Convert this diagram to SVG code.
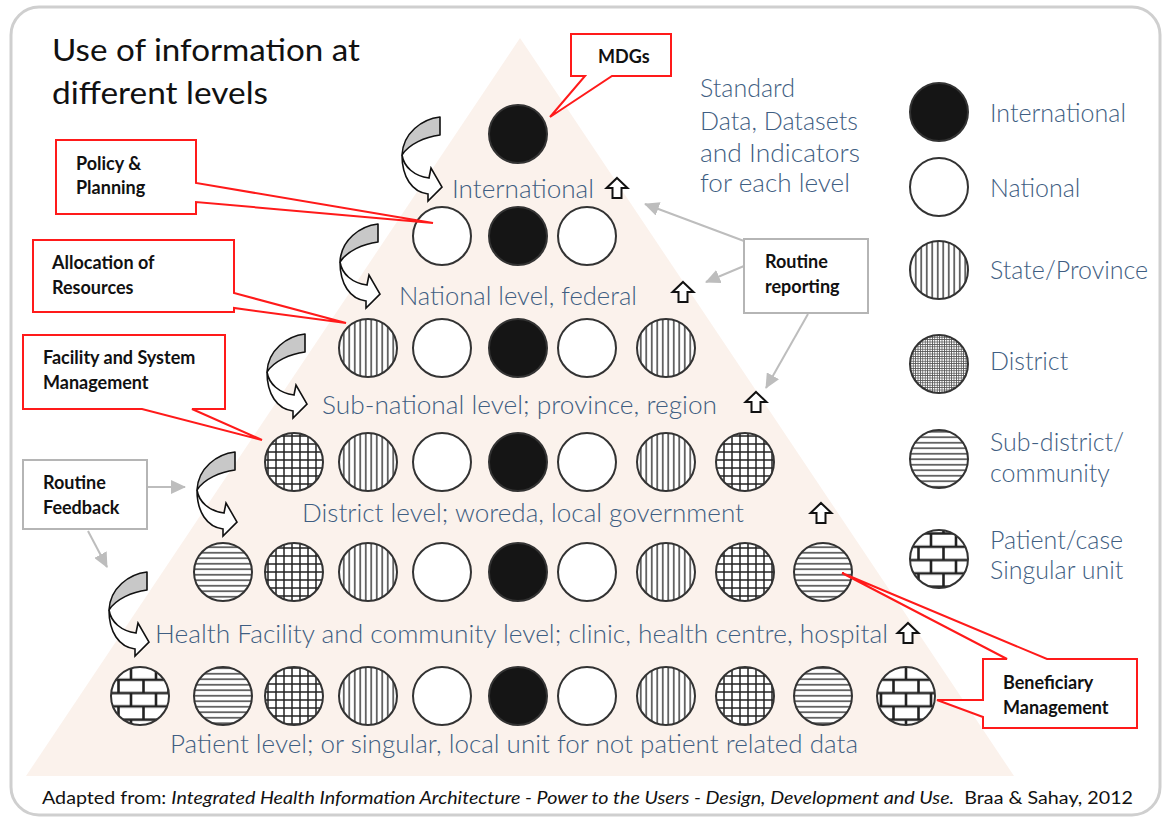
<svg xmlns="http://www.w3.org/2000/svg" xmlns:xlink="http://www.w3.org/1999/xlink" width="1162" height="821" viewBox="0 0 1162 821">
<style>
.c{stroke:#333;stroke-width:2}
.I{fill:#151515}
.N{fill:#fff}
.V{fill:url(#vert)}
.H{fill:url(#horiz)}
.G{fill:url(#grid)}
.B{fill:url(#brick)}
.F{fill:url(#fine)}
.lvl{font-family:Lato,"Open Sans","Liberation Sans",sans-serif;font-size:25px;font-weight:300;fill:#3f5e82}
.box{font-family:Lato,"Liberation Sans",sans-serif;font-size:18px;font-weight:bold;fill:#111}
.red{fill:#fff;stroke:#ff1a1a;stroke-width:2}
.gray{fill:#fff;stroke:#b5b5b5;stroke-width:2}
.conn{stroke:#bdbdbd;stroke-width:2;fill:none}
.up{fill:#fff;stroke:#111;stroke-width:2;stroke-linejoin:miter}
</style>
<defs>
<pattern id="vert" patternUnits="userSpaceOnUse" width="5.5" height="10"><rect width="5.5" height="10" fill="#fff"/><line x1="2.75" y1="0" x2="2.75" y2="10" stroke="#222" stroke-width="1.3"/></pattern>
<pattern id="horiz" patternUnits="userSpaceOnUse" width="10" height="5.5"><rect width="10" height="5.5" fill="#fff"/><line x1="0" y1="2.75" x2="10" y2="2.75" stroke="#222" stroke-width="1.3"/></pattern>
<pattern id="grid" patternUnits="userSpaceOnUse" width="8" height="8"><rect width="8" height="8" fill="#fff"/><path d="M4,0V8M0,4H8" stroke="#222" stroke-width="1.5"/></pattern>
<pattern id="fine" patternUnits="userSpaceOnUse" width="2.4" height="2.4"><rect width="2.4" height="2.4" fill="#fff"/><path d="M1.2,0V2.4M0,1.2H2.4" stroke="#555" stroke-width="0.8"/></pattern>
<pattern id="brick" patternUnits="userSpaceOnUse" width="25" height="26.6"><rect width="25" height="26.6" fill="#fff"/><path d="M0,1.5H25M0,14.8H25M6,1.5V14.8M18.5,14.8V26.6M18.5,0V1.5" stroke="#222" stroke-width="2.6"/></pattern>
<g id="curl">
<path d="M0,0 C-18,2 -37,16 -38,38 C-31,27 -15,20 0,18 Z" fill="#c8c8c8" stroke="#111" stroke-width="1.6" stroke-linejoin="round"/>
<path d="M-38,38 C-36,50 -26,59 -11,61 L-9,51 L2,70 L-12,84 L-12,77 C-28,75 -38,60 -38,38 Z" fill="#fff" stroke="#111" stroke-width="1.6" stroke-linejoin="miter"/>
</g>
<path id="up" d="M0,0 L10.5,10 L4.5,10 L4.5,20 L-4.5,20 L-4.5,10 L-10.5,10 Z" class="up"/>
<marker id="ah" markerUnits="userSpaceOnUse" markerWidth="16" markerHeight="14" refX="14" refY="7" orient="auto"><path d="M0,0 L15,7 L0,14 Z" fill="#bdbdbd"/></marker>
</defs>

<rect x="0" y="0" width="1162" height="821" fill="#fff"/>
<rect x="11" y="7" width="1149" height="808" rx="28" fill="#fff" stroke="#cfcfcf" stroke-width="3"/>

<path id="pyramid" d="M520,38 L1014,776 L26,776 Z" fill="#fbf2ec"/>

<g id="title" font-family="Lato,'Liberation Sans',sans-serif" font-size="30" fill="#111">
<text x="52" y="61" textLength="308" lengthAdjust="spacingAndGlyphs">Use of information at</text>
<text x="52" y="104" textLength="216" lengthAdjust="spacingAndGlyphs">different levels</text>
</g>

<g id="standard-text">
<text x="700" y="97" class="lvl">Standard</text>
<text x="700" y="130" class="lvl" textLength="158" lengthAdjust="spacingAndGlyphs">Data, Datasets</text>
<text x="700" y="162" class="lvl" textLength="160" lengthAdjust="spacingAndGlyphs">and Indicators</text>
<text x="700" y="192" class="lvl" textLength="150" lengthAdjust="spacingAndGlyphs">for each level</text>
</g>

<g id="level-international">
<circle class="c I" cx="518" cy="134" r="29"/>
<text class="lvl" x="452" y="198" textLength="142" lengthAdjust="spacingAndGlyphs">International</text>
<use xlink:href="#up" href="#up" x="617" y="178"/>
<use xlink:href="#curl" href="#curl" x="440" y="117"/>
</g>

<g id="level-national">
<circle class="c N" cx="442" cy="236" r="29"/>
<circle class="c I" cx="518" cy="236" r="29"/>
<circle class="c N" cx="587" cy="236" r="29"/>
<text class="lvl" x="399" y="305" textLength="238" lengthAdjust="spacingAndGlyphs">National level, federal</text>
<use xlink:href="#up" href="#up" x="683" y="282"/>
<use xlink:href="#curl" href="#curl" x="378" y="224"/>
</g>

<g id="level-subnational">
<circle class="c V" cx="368" cy="348" r="29"/>
<circle class="c N" cx="442" cy="348" r="29"/>
<circle class="c I" cx="518" cy="348" r="29"/>
<circle class="c N" cx="587" cy="348" r="29"/>
<circle class="c V" cx="666" cy="348" r="29"/>
<text class="lvl" x="322" y="414" textLength="395" lengthAdjust="spacingAndGlyphs">Sub-national level; province, region</text>
<use xlink:href="#up" href="#up" x="756" y="392"/>
<use xlink:href="#curl" href="#curl" x="305" y="334"/>
</g>

<g id="level-district">
<circle class="c G" cx="294" cy="462" r="29"/>
<circle class="c V" cx="368" cy="462" r="29"/>
<circle class="c N" cx="442" cy="462" r="29"/>
<circle class="c I" cx="518" cy="462" r="29"/>
<circle class="c N" cx="587" cy="462" r="29"/>
<circle class="c V" cx="666" cy="462" r="29"/>
<circle class="c G" cx="745" cy="462" r="29"/>
<text class="lvl" x="302" y="522" textLength="442" lengthAdjust="spacingAndGlyphs">District level; woreda, local government</text>
<use xlink:href="#up" href="#up" x="821" y="503"/>
<use xlink:href="#curl" href="#curl" x="235" y="452"/>
</g>

<g id="level-facility">
<circle class="c H" cx="223" cy="572" r="29"/>
<circle class="c G" cx="294" cy="572" r="29"/>
<circle class="c V" cx="368" cy="572" r="29"/>
<circle class="c N" cx="442" cy="572" r="29"/>
<circle class="c I" cx="518" cy="572" r="29"/>
<circle class="c N" cx="587" cy="572" r="29"/>
<circle class="c V" cx="666" cy="572" r="29"/>
<circle class="c G" cx="745" cy="572" r="29"/>
<circle class="c H" cx="823" cy="572" r="29"/>
<text class="lvl" x="155" y="643" textLength="733" lengthAdjust="spacingAndGlyphs">Health Facility and community level; clinic, health centre, hospital</text>
<use xlink:href="#up" href="#up" x="908" y="623"/>
<use xlink:href="#curl" href="#curl" x="147" y="572"/>
</g>

<g id="level-patient">
<circle class="c B" cx="140" cy="696" r="29"/>
<circle class="c H" cx="223" cy="696" r="29"/>
<circle class="c G" cx="294" cy="696" r="29"/>
<circle class="c V" cx="368" cy="696" r="29"/>
<circle class="c N" cx="442" cy="696" r="29"/>
<circle class="c I" cx="518" cy="696" r="29"/>
<circle class="c N" cx="587" cy="696" r="29"/>
<circle class="c V" cx="666" cy="696" r="29"/>
<circle class="c G" cx="745" cy="696" r="29"/>
<circle class="c H" cx="823" cy="696" r="29"/>
<circle class="c B" cx="906" cy="696" r="29"/>
<text class="lvl" x="170" y="753" textLength="688" lengthAdjust="spacingAndGlyphs">Patient level; or singular, local unit for not patient related data</text>
</g>

<g id="legend">
<g id="legend-international"><circle class="c I" cx="939" cy="112" r="29"/><text class="lvl" x="990" y="122">International</text></g>
<g id="legend-national"><circle class="c N" cx="939" cy="187" r="29"/><text class="lvl" x="990" y="197">National</text></g>
<g id="legend-state"><circle class="c V" cx="939" cy="270" r="29"/><text class="lvl" x="990" y="279">State/Province</text></g>
<g id="legend-district"><circle class="c F" cx="939" cy="364" r="29"/><text class="lvl" x="990" y="370">District</text></g>
<g id="legend-subdistrict"><circle class="c H" cx="939" cy="459" r="29"/><text class="lvl" x="990" y="451">Sub-district/</text><text class="lvl" x="990" y="482">community</text></g>
<g id="legend-patient"><circle class="c B" cx="939" cy="559" r="29"/><text class="lvl" x="990" y="549">Patient/case</text><text class="lvl" x="990" y="579">Singular unit</text></g>
</g>

<g id="connectors">
<line class="conn" x1="744" y1="241" x2="645" y2="204" marker-end="url(#ah)"/>
<line class="conn" x1="744" y1="266" x2="706" y2="282" marker-end="url(#ah)"/>
<line class="conn" x1="808" y1="314" x2="766" y2="388" marker-end="url(#ah)"/>
<line class="conn" x1="147" y1="487" x2="185" y2="487" marker-end="url(#ah)"/>
<line class="conn" x1="88" y1="531" x2="107" y2="567" marker-end="url(#ah)"/>
</g>

<g id="callout-mdgs">
<path class="red" d="M571,34 H671 V76 H612 L550,117 L585,76 H571 Z"/>
<text class="box" x="598" y="63">MDGs</text>
</g>
<g id="callout-policy">
<path class="red" d="M56,140 H196 V183 L433,223 L196,202 V214 H56 Z"/>
<text class="box" x="76" y="170">Policy &amp;</text>
<text class="box" x="76" y="194">Planning</text>
</g>
<g id="callout-allocation">
<path class="red" d="M33,240 H234 V293 L346,323 L234,308 V312 H33 Z"/>
<text class="box" x="52" y="269">Allocation of</text>
<text class="box" x="52" y="294">Resources</text>
</g>
<g id="callout-facility">
<path class="red" d="M23,335 H225 V409 H192 L262,440 L142,409 H23 Z"/>
<text class="box" x="43" y="364">Facility and System</text>
<text class="box" x="43" y="389">Management</text>
</g>
<g id="callout-beneficiary">
<path class="red" d="M983,659 H1007 L842,573 L1047,659 H1137 V728 H983 V717 L937,700 L983,700 Z"/>
<text class="box" x="1003" y="689">Beneficiary</text>
<text class="box" x="1003" y="714">Management</text>
</g>
<g id="box-routine-reporting">
<rect class="gray" x="744" y="239" width="124" height="74"/>
<text class="box" x="765" y="268">Routine</text>
<text class="box" x="765" y="293">reporting</text>
</g>
<g id="box-routine-feedback">
<rect class="gray" x="23" y="460" width="124" height="69"/>
<text class="box" x="43" y="489">Routine</text>
<text class="box" x="43" y="514">Feedback</text>
</g>

<text id="footer" x="42" y="804" font-family="Lato,'Liberation Sans',sans-serif" font-size="17" fill="#111" textLength="1091" lengthAdjust="spacingAndGlyphs">Adapted from: <tspan font-style="italic">Integrated Health Information Architecture - Power to the Users - Design, Development and Use.</tspan>&#160; Braa &amp; Sahay, 2012</text>
</svg>
